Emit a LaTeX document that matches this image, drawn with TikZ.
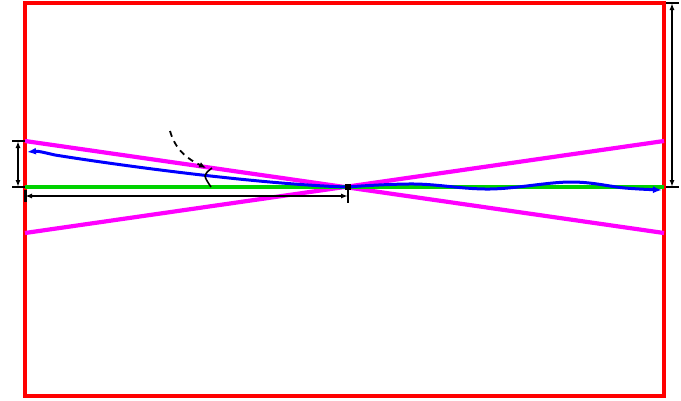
\documentclass[tikz,border=0pt]{standalone}
\usetikzlibrary{arrows.meta}
\definecolor{fr}{RGB}{255,0,0}
\definecolor{mg}{RGB}{255,0,255}
\definecolor{gr}{RGB}{0,210,0}
\definecolor{bl}{RGB}{0,0,255}
\begin{document}
\begin{tikzpicture}[x=1pt,y=-1pt,
  frame/.style={draw=fr,line width=3.3pt},
  ray/.style={draw=mg,line width=4.2pt},
  axisline/.style={draw=gr,line width=3.3pt},
  wave/.style={draw=bl,line width=3pt},
  dim/.style={draw=black,line width=1.6pt,{Latex[length=7pt,width=5pt]}-{Latex[length=7pt,width=5pt]}},
  tick/.style={draw=black,line width=1.6pt}]
\useasboundingbox (0,0) rectangle (681,400);
\coordinate (tl) at (25,3);
\coordinate (br) at (664,396);
\coordinate (c) at (346,187);
\coordinate (mL1) at (25,141);
\coordinate (mR1) at (664,233);
\coordinate (mL2) at (25,233);
\coordinate (mR2) at (664,141);
\coordinate (gL) at (25,187);
\coordinate (gR) at (664,187);
% frame
\draw[frame] (tl) rectangle (br);
% magenta rays
\draw[ray] (mL1) -- (mR1);
\draw[ray] (mL2) -- (mR2);
% green axis
\draw[axisline] (gL) -- (gR);
% blue wave left
\draw[wave,-{Latex[length=9pt,width=7pt]}] (c) .. controls (260,184) and (130,167) .. (55,155) .. controls (42,152) and (38,151) .. (27,152);
% blue wave right
\draw[wave,-{Latex[length=9pt,width=7pt]}] plot[smooth,tension=0.6] coordinates {(346,187) (415,184) (490,189) (570,182) (625,188) (662,190)};
% center point
\node[fill=black,minimum size=6pt,inner sep=0pt] (p) at (348,187) {};
% left vertical dimension
\coordinate (lv1) at (18,141);
\coordinate (lv2) at (18,187);
\draw[dim] (lv1) -- (lv2);
\draw[tick] (12,141) -- (25,141);
\draw[tick] (12,187) -- (25,187);
% horizontal dimension
\coordinate (h1) at (25,196);
\coordinate (h2) at (348,196);
\draw[dim] (h1) -- (h2);
\draw[black,line width=3pt] (25,190) -- (25,202);
\draw[tick] (348,189) -- (348,203);
% right vertical dimension
\coordinate (rv1) at (672,3);
\coordinate (rv2) at (672,187);
\draw[dim] (rv1) -- (rv2);
\draw[tick] (666,3) -- (679,3);
\draw[tick] (666,187) -- (679,187);
% angle arc and dashed pointer
\draw[black,line width=1.6pt] (212,168) .. controls (203,175) .. (211,187);
\draw[black,line width=1.8pt,dash pattern=on 6pt off 5pt,-{Latex[length=7pt,width=6pt]}] (170,131) .. controls (176,152) and (190,160) .. (206,168);
\end{tikzpicture}
\end{document}
